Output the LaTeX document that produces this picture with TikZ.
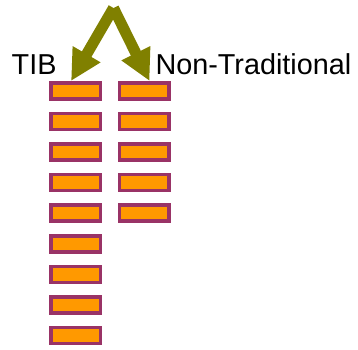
\documentclass[tikz,border=0pt]{standalone}
\usepackage{fontspec}
\setmainfont{Liberation Sans}
\usetikzlibrary{arrows.meta,calc}
\definecolor{boxpurple}{HTML}{993366}
\definecolor{boxorange}{HTML}{FF9900}
\definecolor{arrowolive}{HTML}{808000}
\tikzset{
  bar/.style={draw=boxpurple, line width=3.5pt, fill=boxorange, minimum width=49.5pt, minimum height=16pt, inner sep=0pt, outer sep=0pt},
  bigarrow/.style={draw=arrowolive, line width=11pt, -{Triangle[width=30pt,length=31pt]}, arrowolive},
  lbl/.style={font=\fontsize{28.8}{30}\selectfont, inner sep=0pt, anchor=base west}
}
\begin{document}
\begin{tikzpicture}[x=1pt,y=-1pt]
\useasboundingbox (0,0) rectangle (358,349);
\foreach \k in {0,...,8} {
  \node[bar] (l\k) at (75.5,{90.75+30.6*\k}) {};
}
\foreach \k in {0,...,4} {
  \node[bar] (r\k) at (144,{90.75+30.6*\k}) {};
}
\node[lbl] (tib) at (11.5,74) {TIB};
\node[lbl] (nt) at (155.3,74) {Non-Traditional};
\coordinate (top) at (113.5,8);
\coordinate (ltip) at ($(l0.north west)+(20.3,-1.75)$);
\coordinate (rtip) at ($(r0.north west)+(30.3,-1.75)$);
\draw[bigarrow] (top) -- (ltip);
\draw[bigarrow] (top) -- (rtip);
\end{tikzpicture}
\end{document}
